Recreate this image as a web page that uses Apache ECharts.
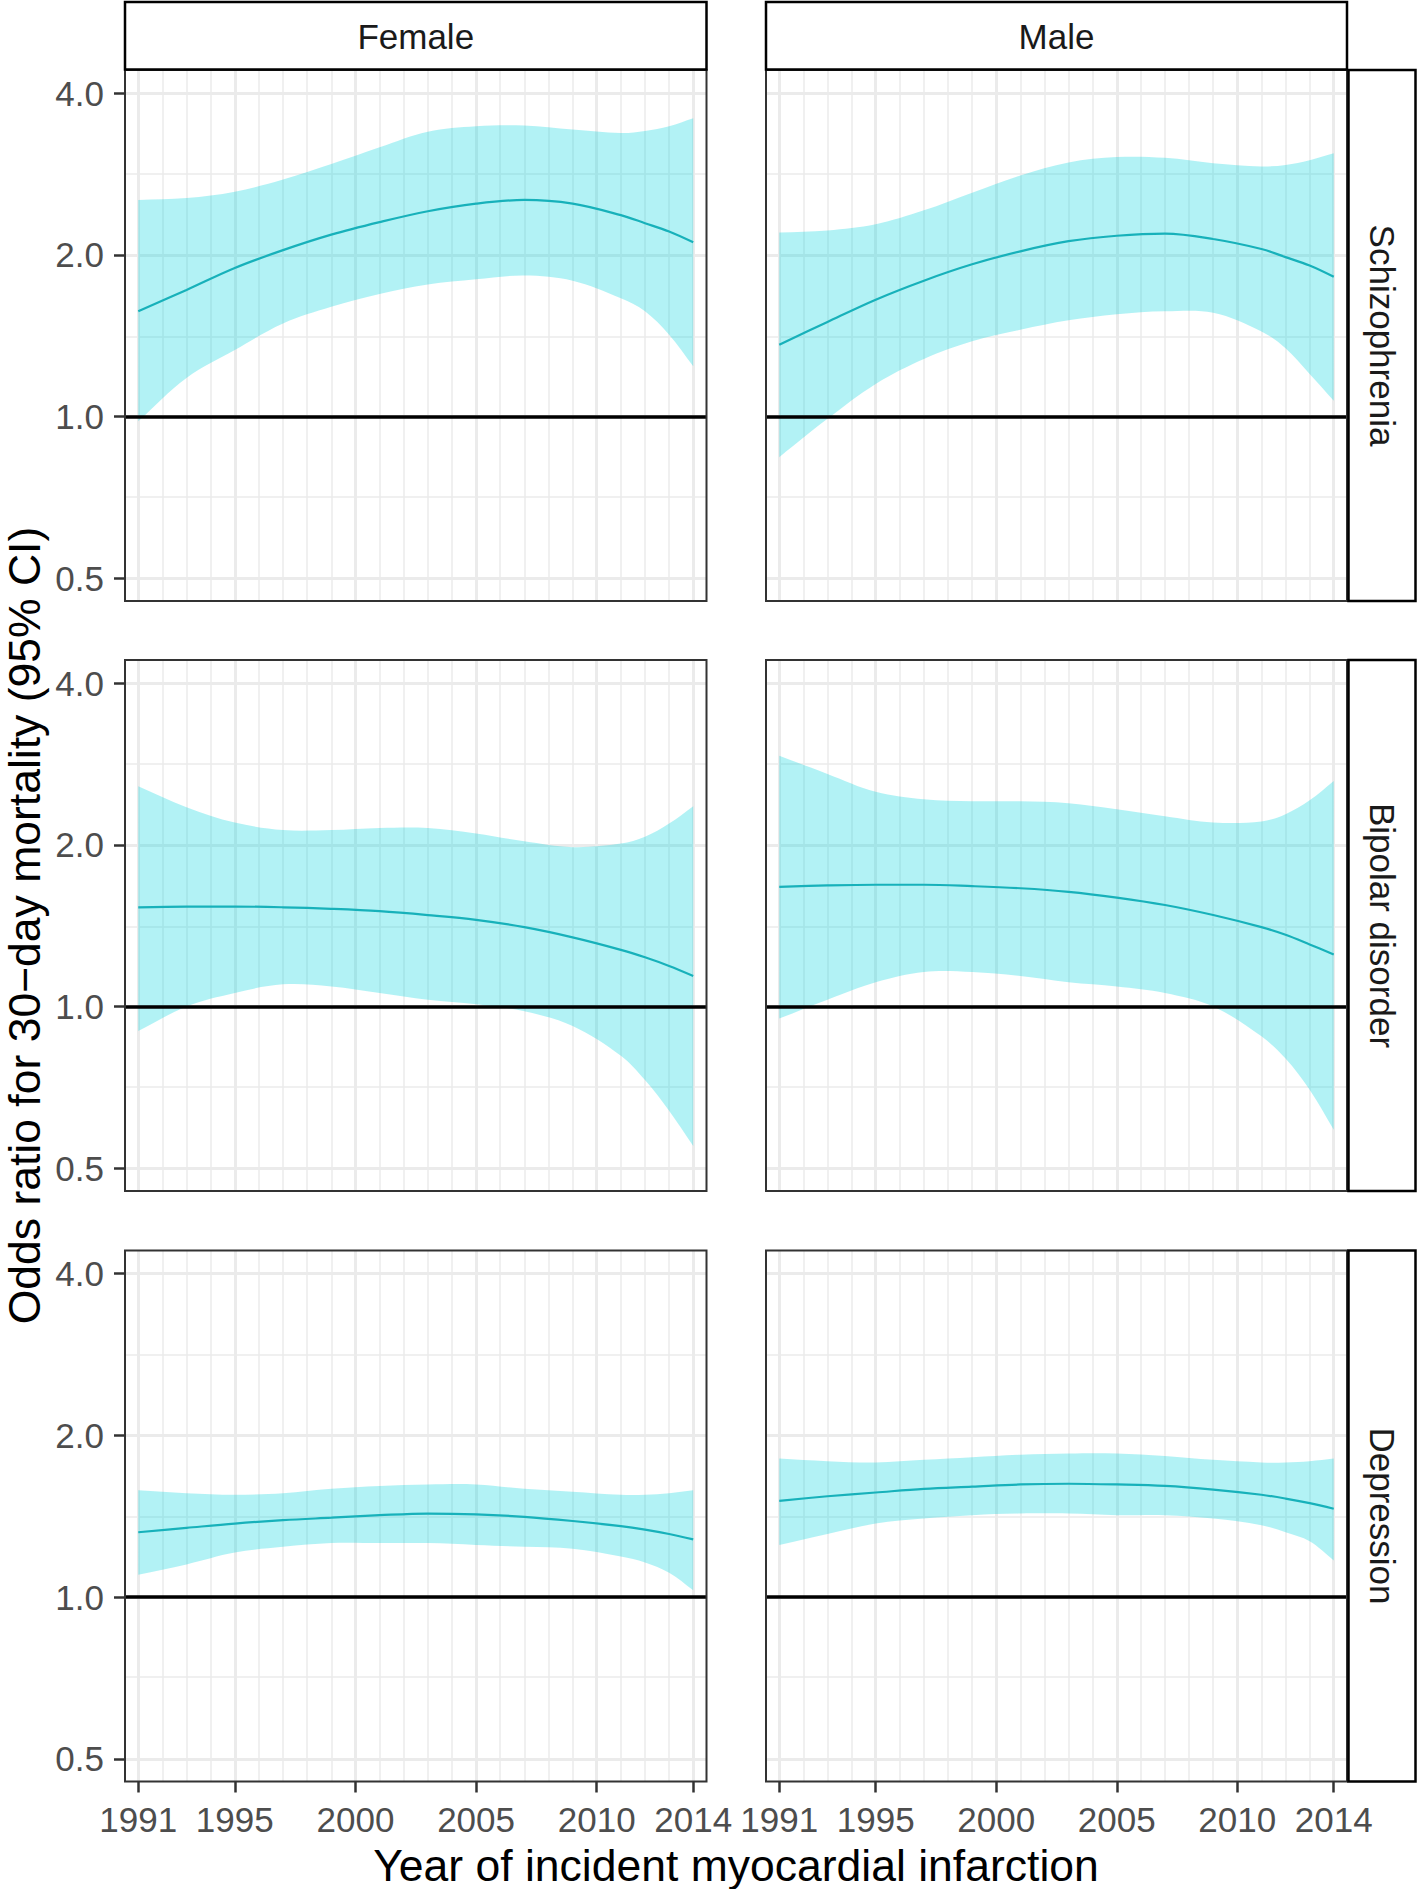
<!DOCTYPE html>
<html>
<head>
<meta charset="utf-8">
<script src="https://cdn.jsdelivr.net/npm/echarts@6/dist/echarts.min.js"></script>
<style>
html,body{margin:0;padding:0;background:#ffffff;}
#chart{width:1418px;height:1889px;}
</style>
</head>
<body>
<div id="chart"></div>
<script>
// ---------- data ----------
const years = [1991, 1993, 1995, 1997, 1999, 2001, 2003, 2005, 2007, 2009, 2011, 2012, 2013, 2014];
const sexes = ['Female', 'Male'];
const disorders = ['Schizophrenia', 'Bipolar disorder', 'Depression'];
const xTickYears = [1991, 1995, 2000, 2005, 2010, 2014];
const yTickValues = [0.5, 1.0, 2.0, 4.0];
const yMinorBreaks = [0.7071, 1.4142, 2.8284];
const yearGridLines = [1991, 1992, 1993, 1994, 1995, 1996, 1997, 1998, 1999, 2000, 2001, 2002,
                       2003, 2004, 2005, 2006, 2007, 2008, 2009, 2010, 2011, 2012, 2013, 2014];
const referenceOR = 1.0;

const femaleSchizophreniaOR    = [1.57, 1.72, 1.89, 2.04, 2.18, 2.30, 2.41, 2.49, 2.53, 2.49, 2.37, 2.29, 2.21, 2.11];
const femaleSchizophreniaLower = [0.98, 1.18, 1.33, 1.49, 1.60, 1.69, 1.76, 1.80, 1.83, 1.79, 1.66, 1.57, 1.42, 1.24];
const femaleSchizophreniaUpper = [2.53, 2.55, 2.62, 2.76, 2.95, 3.17, 3.39, 3.47, 3.48, 3.42, 3.37, 3.40, 3.47, 3.59];

const maleSchizophreniaOR      = [1.36, 1.50, 1.65, 1.79, 1.92, 2.03, 2.12, 2.17, 2.19, 2.14, 2.05, 1.98, 1.91, 1.82];
const maleSchizophreniaLower   = [0.84, 0.99, 1.15, 1.28, 1.38, 1.45, 1.51, 1.55, 1.57, 1.56, 1.44, 1.34, 1.20, 1.07];
const maleSchizophreniaUpper   = [2.20, 2.22, 2.28, 2.42, 2.61, 2.81, 2.97, 3.04, 3.03, 2.96, 2.92, 2.94, 3.00, 3.09];

const femaleBipolarOR          = [1.53, 1.535, 1.535, 1.53, 1.52, 1.505, 1.48, 1.45, 1.405, 1.345, 1.275, 1.235, 1.19, 1.14];
const femaleBipolarLower       = [0.90, 1.00, 1.06, 1.10, 1.09, 1.06, 1.03, 1.01, 0.98, 0.92, 0.81, 0.73, 0.64, 0.55];
const femaleBipolarUpper       = [2.57, 2.35, 2.20, 2.13, 2.13, 2.15, 2.15, 2.10, 2.03, 1.98, 2.01, 2.07, 2.19, 2.36];

const maleBipolarOR            = [1.67, 1.68, 1.685, 1.685, 1.675, 1.66, 1.635, 1.595, 1.545, 1.48, 1.405, 1.36, 1.305, 1.25];
const maleBipolarLower         = [0.95, 1.03, 1.11, 1.16, 1.16, 1.14, 1.11, 1.09, 1.06, 1.00, 0.88, 0.80, 0.70, 0.59];
const maleBipolarUpper         = [2.93, 2.71, 2.51, 2.43, 2.41, 2.41, 2.39, 2.33, 2.26, 2.20, 2.21, 2.28, 2.42, 2.63];

const femaleDepressionOR       = [1.32, 1.345, 1.37, 1.39, 1.405, 1.42, 1.43, 1.425, 1.41, 1.385, 1.355, 1.335, 1.31, 1.28];
const femaleDepressionLower    = [1.10, 1.15, 1.21, 1.24, 1.26, 1.26, 1.26, 1.25, 1.24, 1.23, 1.19, 1.16, 1.11, 1.03];
const femaleDepressionUpper    = [1.58, 1.56, 1.55, 1.56, 1.59, 1.61, 1.62, 1.62, 1.59, 1.57, 1.55, 1.55, 1.56, 1.58];

const maleDepressionOR         = [1.51, 1.54, 1.565, 1.59, 1.605, 1.62, 1.625, 1.62, 1.61, 1.585, 1.55, 1.525, 1.495, 1.46];
const maleDepressionLower      = [1.25, 1.31, 1.37, 1.40, 1.42, 1.43, 1.43, 1.42, 1.42, 1.40, 1.36, 1.32, 1.27, 1.17];
const maleDepressionUpper      = [1.81, 1.79, 1.78, 1.80, 1.82, 1.84, 1.85, 1.85, 1.83, 1.80, 1.78, 1.78, 1.79, 1.81];

const xTitle = 'Year of incident myocardial infarction';
const yTitle = 'Odds ratio for 30\u2212day mortality (95% CI)';

// ---------- layout / style ----------
const FONT = '"Liberation Sans", Arial, Helvetica, sans-serif';
const colLeft = [125, 766];
const colWidth = [581.5, 581];
const rowTop = [70, 660, 1250.5];
const rowHeight = 531;
const xMin = 1990.45, xMax = 2014.55;
const yMin = 0.4536, yMax = 4.415;
const gridColor = '#EBEBEB';
const ribbonColor = 'rgba(0, 213, 222, 0.3)';
const lineColor = '#17B1BA';
const SMOOTH = 0.35;

const panels = [
  {row: 0, col: 0, est: femaleSchizophreniaOR, lo: femaleSchizophreniaLower, hi: femaleSchizophreniaUpper},
  {row: 0, col: 1, est: maleSchizophreniaOR,   lo: maleSchizophreniaLower,   hi: maleSchizophreniaUpper},
  {row: 1, col: 0, est: femaleBipolarOR,       lo: femaleBipolarLower,       hi: femaleBipolarUpper},
  {row: 1, col: 1, est: maleBipolarOR,         lo: maleBipolarLower,         hi: maleBipolarUpper},
  {row: 2, col: 0, est: femaleDepressionOR,    lo: femaleDepressionLower,    hi: femaleDepressionUpper},
  {row: 2, col: 1, est: maleDepressionOR,      lo: maleDepressionLower,      hi: maleDepressionUpper}
];

const gridLineData = [].concat(
  yearGridLines.filter(y => xTickYears.indexOf(y) < 0).map(y => ({xAxis: y, lineStyle: {width: 1.5}})),
  xTickYears.map(y => ({xAxis: y, lineStyle: {width: 3}})),
  yMinorBreaks.map(v => ({yAxis: v, lineStyle: {width: 1.5}})),
  yTickValues.map(v => ({yAxis: v, lineStyle: {width: 3}}))
);

// ribbon drawn as one polygon through the library's coordinate system
function ribbonRenderItem(params, api) {
  if (params.dataIndexInside !== 0) return null;
  const n = params.dataInsideLength;
  const up = [], low = [];
  for (let k = 0; k < n; k++) {
    up.push(api.coord([api.value(0, k), api.value(2, k)]));
    low.push(api.coord([api.value(0, k), api.value(1, k)]));
  }
  // corner points doubled so the smoothed outline keeps square ends
  const pts = [up[0]].concat(up, [up[n - 1]], [low[n - 1]], low.slice().reverse(), [low[0]]);
  return {
    type: 'polygon', silent: true,
    shape: {points: pts, smooth: SMOOTH},
    style: {fill: ribbonColor, stroke: null}
  };
}

const grids = [], xAxes = [], yAxes = [], series = [], graphics = [];

panels.forEach((p, i) => {
  const left = colLeft[p.col], top = rowTop[p.row], width = colWidth[p.col], height = rowHeight;
  grids.push({left: left, top: top, width: width, height: height, show: false, containLabel: false});

  xAxes.push({
    type: 'value', gridIndex: i, min: xMin, max: xMax, position: 'bottom',
    axisLine: {show: false},
    splitLine: {show: false},
    axisTick: {show: p.row === 2, customValues: xTickYears, length: 11, lineStyle: {color: '#333333', width: 2.5}},
    axisLabel: {show: p.row === 2, customValues: xTickYears, margin: 20, color: '#4D4D4D',
                fontSize: 35, fontFamily: FONT, formatter: v => String(Math.round(v))}
  });

  yAxes.push({
    type: 'log', logBase: 2, gridIndex: i, min: yMin, max: yMax,
    axisLine: {show: false},
    splitLine: {show: false},
    axisTick: {show: p.col === 0, customValues: yTickValues, length: 11, lineStyle: {color: '#333333', width: 2.5}},
    axisLabel: {show: p.col === 0, customValues: yTickValues, margin: 21, color: '#4D4D4D',
                fontSize: 35, fontFamily: FONT, formatter: v => Number(v).toFixed(1)}
  });

  const estPts = years.map((y, k) => [y, p.est[k]]);
  const ribbonRows = years.map((y, k) => [y, p.lo[k], p.hi[k]]);

  // background series carrying the panel grid lines
  series.push({
    type: 'line', xAxisIndex: i, yAxisIndex: i, data: estPts, z: 1, silent: true,
    showSymbol: false, lineStyle: {opacity: 0},
    markLine: {
      silent: true, z: 1, animation: false, symbol: ['none', 'none'],
      label: {show: false}, emphasis: {disabled: true},
      lineStyle: {color: gridColor, type: 'solid', width: 1.5},
      data: gridLineData
    }
  });
  // confidence ribbon
  series.push({
    type: 'custom', xAxisIndex: i, yAxisIndex: i, z: 3, silent: true,
    data: ribbonRows,
    encode: {x: 0, y: [1, 2]},
    renderItem: ribbonRenderItem
  });
  // estimate line + reference line at OR = 1
  series.push({
    type: 'line', xAxisIndex: i, yAxisIndex: i, data: estPts, z: 4, silent: true,
    showSymbol: false, smooth: SMOOTH, lineStyle: {color: lineColor, width: 2.2},
    markLine: {
      silent: true, z: 6, animation: false, symbol: ['none', 'none'],
      label: {show: false}, emphasis: {disabled: true},
      lineStyle: {color: '#000000', type: 'solid', width: 3.5},
      data: [{yAxis: referenceOR}]
    }
  });

  // panel border
  graphics.push({type: 'rect', z: 100, silent: true,
    shape: {x: left, y: top, width: width, height: height},
    style: {fill: 'none', stroke: '#333333', lineWidth: 2}});
});

// top strips
sexes.forEach((s, c) => {
  graphics.push({type: 'rect', z: 101, silent: true,
    shape: {x: colLeft[c], y: 2, width: colWidth[c], height: 67.5},
    style: {fill: '#ffffff', stroke: '#000000', lineWidth: 2.5}});
  graphics.push({type: 'text', z: 102, silent: true,
    x: colLeft[c] + colWidth[c] / 2, y: 36,
    style: {text: s, fill: '#1A1A1A', font: '35px ' + FONT, align: 'center', verticalAlign: 'middle'}});
});
// right strips
disorders.forEach((d, r) => {
  graphics.push({type: 'rect', z: 101, silent: true,
    shape: {x: 1348.5, y: rowTop[r], width: 67, height: rowHeight},
    style: {fill: '#ffffff', stroke: '#000000', lineWidth: 2.5}});
  graphics.push({type: 'text', z: 102, silent: true,
    x: 1382, y: rowTop[r] + rowHeight / 2, rotation: -Math.PI / 2,
    style: {text: d, fill: '#1A1A1A', font: '35px ' + FONT, align: 'center', verticalAlign: 'middle'}});
});
// axis titles
graphics.push({type: 'text', z: 102, silent: true, x: 736, y: 1865,
  style: {text: xTitle, fill: '#000000', font: '44.5px ' + FONT, align: 'center', verticalAlign: 'middle'}});
graphics.push({type: 'text', z: 102, silent: true, x: 24, y: 925.5, rotation: Math.PI / 2,
  style: {text: yTitle, fill: '#000000', font: '44.5px ' + FONT, align: 'center', verticalAlign: 'middle'}});

const chart = echarts.init(document.getElementById('chart'), null, {renderer: 'svg', width: 1418, height: 1889});
chart.setOption({
  animation: false,
  backgroundColor: '#ffffff',
  grid: grids,
  xAxis: xAxes,
  yAxis: yAxes,
  series: series,
  graphic: graphics
});
</script>
</body>
</html>
